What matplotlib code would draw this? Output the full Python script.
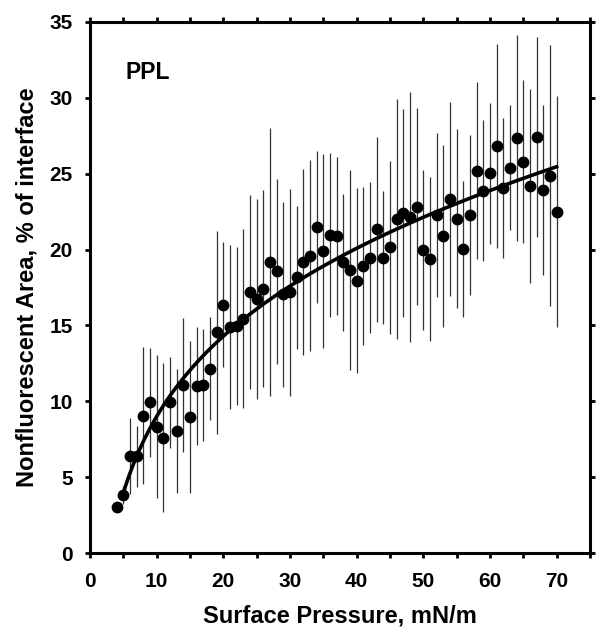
import numpy as np
import matplotlib
matplotlib.use("Agg")
import matplotlib.pyplot as plt
from matplotlib.ticker import MultipleLocator

# surface pressure, mN/m
pressure = list(range(4, 71))

# nonfluorescent area, % of interface (mean)
area = [3.01, 3.80, 6.41, 6.37, 9.05, 9.93, 8.33, 7.60, 9.93, 8.04,
        11.07, 8.94, 11.00, 11.07, 12.15, 14.55, 16.37, 14.92, 14.96, 15.43,
        17.19, 16.72, 17.42, 19.18, 18.57, 17.05, 17.17, 18.16, 19.18, 19.59,
        21.48, 19.91, 20.96, 20.87, 19.16, 18.66, 17.95, 18.92, 19.47, 21.34,
        19.47, 20.15, 22.02, 22.43, 22.13, 22.83, 19.97, 19.36, 22.28, 20.92,
        23.34, 22.02, 20.04, 22.28, 25.20, 23.88, 25.03, 26.83, 24.04, 25.40,
        27.34, 25.80, 24.21, 27.40, 23.93, 24.85, 22.50]

# error bar half-length
area_err = [0.3, 0.6, 2.5, 2.0, 4.5, 3.6, 4.7, 4.9, 3.0, 4.1,
            4.4, 5.0, 3.9, 3.7, 3.4, 6.7, 4.1, 5.4, 5.2, 5.9,
            6.4, 6.6, 6.5, 8.8, 6.1, 6.1, 6.85, 4.7, 6.1, 6.3,
            5.0, 6.4, 5.4, 5.2, 4.5, 6.6, 6.1, 5.2, 5.0, 6.1,
            4.4, 5.7, 7.9, 6.85, 8.25, 6.5, 5.3, 5.4, 5.4, 6.0,
            6.4, 5.9, 4.5, 5.3, 5.85, 4.66, 4.65, 6.7, 4.6, 4.1,
            6.8, 5.35, 6.4, 6.6, 5.6, 8.6, 7.6]

label_text = "PPL"

plt.rcParams['font.family'] = ['Liberation Sans', 'DejaVu Sans']
plt.rcParams['font.weight'] = 'bold'

fig = plt.figure(figsize=(5.98, 6.27), dpi=100)
ax = fig.add_axes([0.1505, 0.118, 0.836, 0.847])

x = np.array(pressure, dtype=float)
y = np.array(area)
e = np.array(area_err)

ax.errorbar(x, y, yerr=e, fmt='none', ecolor='0.2', elinewidth=0.9,
            capsize=0, zorder=2)

# regression curve y = a + b*x + c*ln(x) fitted to the points
A = np.column_stack([np.ones_like(x), x, np.log(x)])
coef, *_ = np.linalg.lstsq(A, y, rcond=None)
xf = np.linspace(x[1], x[-1], 200)
yf = coef[0] + coef[1] * xf + coef[2] * np.log(xf)
ax.plot(xf, yf, color='black', lw=2.6, zorder=3)

ax.plot(x, y, 'o', color='black', ms=7.5, zorder=4)

ax.text(5.4, 31.7, label_text, fontsize=16.5, fontweight='bold', va='center')

ax.set_xlim(0, 75)
ax.set_ylim(0, 35)
ax.xaxis.set_major_locator(MultipleLocator(10))
ax.xaxis.set_minor_locator(MultipleLocator(5))
ax.yaxis.set_major_locator(MultipleLocator(5))
ax.set_xticks([0, 10, 20, 30, 40, 50, 60, 70])

for s in ax.spines.values():
    s.set_linewidth(2.2)

ax.tick_params(which='both', direction='out', width=2, length=3.5,
               top=True, right=True, labelsize=15)
ax.tick_params(axis='x', pad=10)
ax.tick_params(axis='y', pad=9)

ax.set_xlabel("Surface Pressure, mN/m", fontsize=17, fontweight='bold', labelpad=10)
ax.set_ylabel("Nonfluorescent Area, % of interface", fontsize=17, fontweight='bold',
              labelpad=8)

fig.savefig("out.png", dpi=100)
